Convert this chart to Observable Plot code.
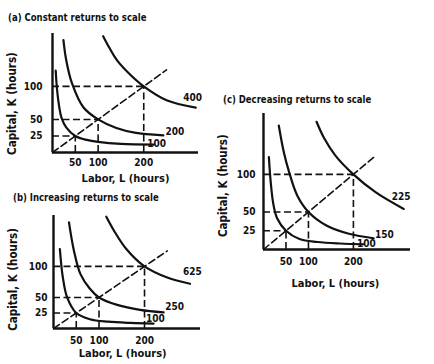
<!DOCTYPE html>
<html><head><meta charset="utf-8">
<script src="https://cdn.jsdelivr.net/npm/d3@7"></script>
<script src="https://cdn.jsdelivr.net/npm/@observablehq/plot@0.6"></script>
<style>
body{margin:0;background:#fff;}
#wrap{position:relative;width:434px;height:364px;overflow:hidden;background:#fff;font-family:"DejaVu Sans Condensed","DejaVu Sans",sans-serif;color:#111;}
.panel{position:absolute;}
.title{position:absolute;font-weight:bold;font-size:11px;white-space:nowrap;line-height:12px;transform:scaleX(0.86);transform-origin:0 50%;}
</style></head><body><div id="wrap"></div>
<script>
// ---------- data ----------
const xTicks = [50, 100, 200];
const yTicks = [25, 50, 100];
const scaleL = [50, 100, 200];
const scaleK = [25, 50, 100];
const rayL = [0, 250];
const rayK = [0, 125];
const xLabel = "Labor, L (hours)";
const yLabel = "Capital, K (hours)";

// (a) constant returns
const aTitle = "(a) Constant returns to scale";
const aOutputs = ["100", "200", "400"];
const aL100 = [7, 10, 15, 20, 30, 50, 75, 100, 150, 222];
const aK100 = [124, 95, 68, 52, 38, 25, 19, 16, 13, 12];
const aL200 = [24, 30, 43, 68, 100, 140, 180, 243];
const aK200 = [170, 140, 104, 68, 50, 37, 30, 26];
const aL400 = [111, 125, 142, 170, 200, 250, 314];
const aK400 = [176, 158, 139, 118, 100, 79, 68];

// (b) increasing returns
const bTitle = "(b) Increasing returns to scale";
const bOutputs = ["100", "250", "625"];
const bL100 = [14, 20, 30, 50, 80, 120, 170, 220];
const bK100 = [128, 85, 50, 25, 15, 11, 9, 8];
const bL250 = [34, 45, 59, 80, 100, 140, 190, 242];
const bK250 = [171, 125, 88, 64, 50, 38, 30, 26];
const bL625 = [116, 135, 160, 200, 250, 300];
const bK625 = [180, 155, 128, 100, 82, 72];

// (c) decreasing returns
const cTitle = "(c) Decreasing returns to scale";
const cOutputs = ["100", "150", "225"];
const cL100 = [12, 16, 22, 30, 50, 80, 120, 170, 223];
const cK100 = [123, 90, 60, 42, 25, 14, 10, 8, 7];
const cL150 = [34, 45, 56, 75, 100, 140, 190, 245];
const cK150 = [165, 130, 105, 72, 50, 32, 21, 15];
const cL225 = [118, 135, 160, 200, 250, 312];
const cK225 = [170, 148, 125, 100, 76, 54];

// ---------- helpers ----------
const FONT = '"DejaVu Sans Condensed","DejaVu Sans",sans-serif';
const zip = (Ls, Ks, extra = {}) => Ls.map((L, i) => ({L, K: Ks[i], ...extra}));
const scalePts = zip(scaleL, scaleK);
const ray = zip(rayL, rayK);
const dash = "7,3.5";

function squeeze(svg, selector, f) {
  svg.querySelectorAll(selector).forEach(t => {
    const tr = t.getAttribute("transform");
    if (tr) t.setAttribute("transform", tr + ` scale(${f},1)`);
  });
}

function panel(cfg) {
  const curves = cfg.curves.flatMap(([Ls, Ks], i) => zip(Ls, Ks, {q: cfg.outputs[i]}));
  const labels = cfg.outputs.map((t, i) => ({t, L: cfg.labelPos[i][0], K: cfg.labelPos[i][1], a: cfg.labelPos[i][2]}));
  const plot = Plot.plot({
    width: cfg.w, height: cfg.h,
    marginLeft: cfg.m[0], marginTop: cfg.m[1], marginRight: cfg.m[2], marginBottom: cfg.m[3],
    x: {domain: [0, cfg.xMax], axis: null},
    y: {domain: [0, cfg.yMax], axis: null},
    style: {fontFamily: FONT, background: "transparent", overflow: "visible", color: "#111"},
    marks: [
      Plot.ruleY(scalePts, {y: "K", x1: 0, x2: "L", stroke: "#111", strokeWidth: 1.6, strokeDasharray: dash}),
      Plot.ruleX(scalePts, {x: "L", y1: 0, y2: "K", stroke: "#111", strokeWidth: 1.6, strokeDasharray: dash}),
      Plot.line(ray, {x: "L", y: "K", stroke: "#111", strokeWidth: 1.6, strokeDasharray: dash}),
      Plot.line(curves, {x: "L", y: "K", z: "q", curve: "catmull-rom", stroke: "#111", strokeWidth: 2.2}),
      Plot.ruleX([0], {stroke: "#111", strokeWidth: 2.4}),
      Plot.ruleY([0], {stroke: "#111", strokeWidth: 2.4}),
      Plot.axisX(xTicks, {anchor: "bottom", tickSize: 0, tickPadding: cfg.tpx, label: null, fontSize: 10, fontWeight: "bold", ariaLabel: "xticks"}),
      Plot.axisY(yTicks, {anchor: "left", tickSize: 0, tickPadding: cfg.tpy, label: null, fontSize: 10, fontWeight: "bold", ariaLabel: "yticks"}),
      Plot.text(labels, {x: "L", y: "K", text: "t", textAnchor: d => d.a, fontSize: 10, fontWeight: "bold", fill: "#111", ariaLabel: "qlabels"}),
      Plot.text([yLabel], {frameAnchor: "left", y: cfg.yLabelK, dx: -40, rotate: -90, textAnchor: "middle", lineAnchor: "middle", fontSize: 11.5, fontWeight: "bold", fill: "#111", ariaLabel: "ylabel"}),
      Plot.text([xLabel], {frameAnchor: "bottom", x: cfg.xLabelL, dy: cfg.xLabelDy, textAnchor: "middle", lineAnchor: "middle", fontSize: 11, fontWeight: "bold", fill: "#111", ariaLabel: "xlabel"})
    ]
  });
  squeeze(plot, '[aria-label="xticks"] text, [aria-label="yticks"] text', 0.82);
  squeeze(plot, '[aria-label="xlabel"] text', 0.85);
  const div = document.createElement("div");
  div.className = "panel";
  div.style.left = cfg.left + "px";
  div.style.top = cfg.top + "px";
  div.appendChild(plot);
  document.getElementById("wrap").appendChild(div);
  const t = document.createElement("div");
  t.className = "title";
  t.textContent = cfg.title;
  t.style.left = cfg.tx + "px";
  t.style.top = cfg.ty + "px";
  document.getElementById("wrap").appendChild(t);
}

panel({title: aTitle, tx: 8, ty: 12, left: 0, top: 0, w: 210, h: 190, m: [52, 33, 12, 38], xMax: 320, yMax: 180,
  outputs: aOutputs, curves: [[aL100, aK100], [aL200, aK200], [aL400, aK400]],
  labelPos: [[228, 13, "start"], [268, 32, "middle"], [307, 82, "middle"]],
  tpx: 6, tpy: 10, yLabelK: 74, xLabelL: 160, xLabelDy: 26});

panel({title: bTitle, tx: 13, ty: 192, left: 0, top: 190, w: 210, h: 174, m: [53, 25, 10, 36], xMax: 323, yMax: 182,
  outputs: bOutputs, curves: [[bL100, bK100], [bL250, bK250], [bL625, bK625]],
  labelPos: [[224, 15, "start"], [266, 35, "middle"], [305, 91, "middle"]],
  tpx: 8, tpy: 6, yLabelK: 79, xLabelL: 152, xLabelDy: 25});

panel({title: cTitle, tx: 223, ty: 94, left: 210, top: 90, w: 224, h: 210, m: [53, 23, 24, 51], xMax: 327, yMax: 181,
  outputs: cOutputs, curves: [[cL100, cK100], [cL150, cK150], [cL225, cK225]],
  labelPos: [[229, 8, "start"], [269, 20, "middle"], [306, 70, "middle"]],
  tpx: 8, tpy: 8, yLabelK: 85, xLabelL: 160, xLabelDy: 34});
</script></body></html>
